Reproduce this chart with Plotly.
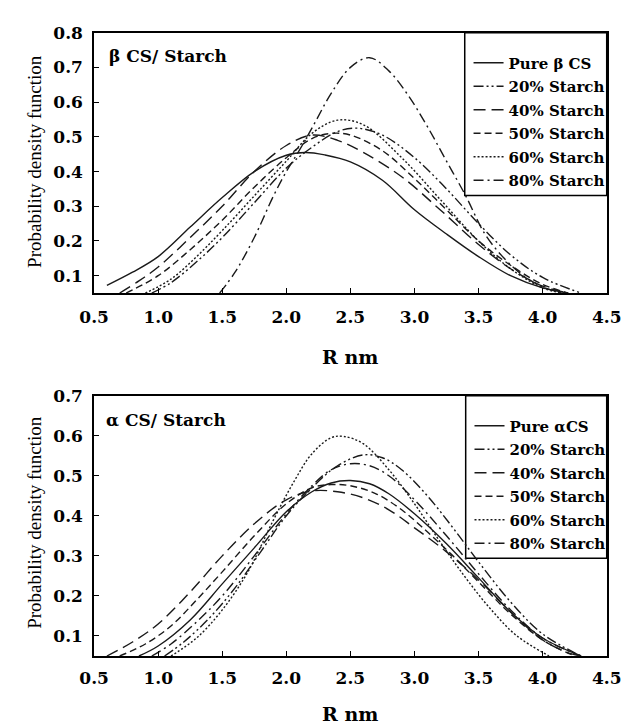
import plotly.graph_objects as go

W, H = 636, 728

# ---------------- data: beta CS / Starch (top panel) ----------------
b_names = ["Pure \u03b2 CS", "20% Starch", "40% Starch", "50% Starch", "60% Starch", "80% Starch"]
b_pure_x = [0.6, 0.8, 1.0, 1.25, 1.5, 1.75, 2.0, 2.15, 2.3, 2.5, 2.75, 3.0, 3.25, 3.5, 3.75, 4.0, 4.2]
b_pure_y = [0.072, 0.11, 0.155, 0.24, 0.325, 0.40, 0.447, 0.455, 0.448, 0.428, 0.375, 0.29, 0.22, 0.155, 0.10, 0.065, 0.05]
b_20_x = [0.95, 1.1, 1.3, 1.5, 1.75, 2.0, 2.2, 2.4, 2.55, 2.75, 3.0, 3.25, 3.5, 3.75, 4.0, 4.3]
b_20_y = [0.05, 0.08, 0.14, 0.21, 0.31, 0.41, 0.47, 0.515, 0.525, 0.505, 0.44, 0.35, 0.25, 0.16, 0.095, 0.05]
b_40_x = [0.7, 0.85, 1.0, 1.25, 1.5, 1.75, 2.0, 2.2, 2.4, 2.6, 2.9, 3.2, 3.5, 3.75, 4.0, 4.2]
b_40_y = [0.05, 0.085, 0.125, 0.21, 0.30, 0.40, 0.475, 0.505, 0.49, 0.455, 0.385, 0.29, 0.19, 0.12, 0.07, 0.05]
b_50_x = [0.75, 1.0, 1.25, 1.5, 1.75, 2.0, 2.2, 2.35, 2.5, 2.75, 3.0, 3.25, 3.5, 3.75, 4.0, 4.2]
b_50_y = [0.05, 0.10, 0.175, 0.26, 0.355, 0.44, 0.495, 0.51, 0.505, 0.46, 0.38, 0.29, 0.20, 0.13, 0.075, 0.05]
b_60_x = [0.9, 1.1, 1.3, 1.5, 1.75, 2.0, 2.2, 2.4, 2.6, 2.9, 3.2, 3.5, 3.75, 4.0, 4.15]
b_60_y = [0.05, 0.09, 0.155, 0.23, 0.33, 0.43, 0.51, 0.548, 0.535, 0.44, 0.32, 0.20, 0.12, 0.065, 0.05]
b_80_x = [1.48, 1.6, 1.75, 1.9, 2.0, 2.1, 2.2, 2.35, 2.5, 2.65, 2.8, 2.95, 3.1, 3.25, 3.4, 3.55, 3.7, 3.85, 4.0, 4.16]
b_80_y = [0.05, 0.11, 0.21, 0.33, 0.40, 0.46, 0.525, 0.625, 0.70, 0.728, 0.69, 0.62, 0.53, 0.43, 0.33, 0.22, 0.15, 0.10, 0.068, 0.05]

# ---------------- data: alpha CS / Starch (bottom panel) ----------------
a_names = ["Pure \u03b1CS", "20% Starch", "40% Starch", "50% Starch", "60% Starch", "80% Starch"]
a_pure_x = [0.85, 1.0, 1.25, 1.5, 1.75, 2.0, 2.2, 2.35, 2.5, 2.65, 2.8, 3.0, 3.25, 3.5, 3.75, 4.0, 4.3]
a_pure_y = [0.05, 0.075, 0.14, 0.23, 0.32, 0.41, 0.46, 0.482, 0.488, 0.48, 0.455, 0.405, 0.33, 0.245, 0.16, 0.095, 0.05]
a_20_x = [1.05, 1.2, 1.4, 1.6, 1.8, 2.0, 2.2, 2.4, 2.6, 2.75, 2.9, 3.1, 3.3, 3.5, 3.75, 4.0, 4.3]
a_20_y = [0.05, 0.085, 0.145, 0.22, 0.31, 0.40, 0.47, 0.525, 0.552, 0.545, 0.515, 0.45, 0.37, 0.285, 0.185, 0.105, 0.05]
a_40_x = [0.6, 0.8, 1.0, 1.25, 1.5, 1.75, 2.0, 2.2, 2.4, 2.6, 2.8, 3.0, 3.25, 3.5, 3.75, 4.0, 4.2, 4.3]
a_40_y = [0.05, 0.085, 0.13, 0.21, 0.30, 0.38, 0.44, 0.462, 0.46, 0.445, 0.415, 0.37, 0.31, 0.24, 0.16, 0.09, 0.058, 0.05]
a_50_x = [0.7, 0.9, 1.1, 1.3, 1.5, 1.75, 2.0, 2.2, 2.35, 2.5, 2.7, 2.9, 3.1, 3.3, 3.5, 3.75, 4.0, 4.25]
a_50_y = [0.05, 0.08, 0.125, 0.19, 0.26, 0.35, 0.43, 0.47, 0.478, 0.475, 0.455, 0.415, 0.36, 0.30, 0.235, 0.155, 0.09, 0.05]
a_60_x = [1.1, 1.3, 1.5, 1.7, 1.9, 2.05, 2.2, 2.35, 2.45, 2.6, 2.8, 3.0, 3.2, 3.4, 3.6, 3.8, 4.05]
a_60_y = [0.05, 0.095, 0.165, 0.26, 0.39, 0.48, 0.555, 0.595, 0.598, 0.58, 0.515, 0.43, 0.335, 0.245, 0.165, 0.10, 0.05]
a_80_x = [0.95, 1.1, 1.3, 1.5, 1.75, 2.0, 2.2, 2.35, 2.5, 2.65, 2.8, 3.0, 3.25, 3.5, 3.75, 4.0, 4.3]
a_80_y = [0.05, 0.08, 0.135, 0.20, 0.30, 0.405, 0.475, 0.515, 0.53, 0.525, 0.50, 0.44, 0.35, 0.255, 0.165, 0.095, 0.05]

x_ticks = [0.5, 1.0, 1.5, 2.0, 2.5, 3.0, 3.5, 4.0, 4.5]
top_y_ticks = [0.1, 0.2, 0.3, 0.4, 0.5, 0.6, 0.7, 0.8]
bot_y_ticks = [0.1, 0.2, 0.3, 0.4, 0.5, 0.6, 0.7]

# ---------------- styles ----------------
dashes = ["solid", "10px,3px,2px,3px,2px,3px", "12px,6px", "7px,4px", "2px,2px", "10px,4px,2px,4px"]
LC = "#1a1a1a"
FONT = "DejaVu Serif"

def px(x):
    return x / W

def py(y):
    return 1 - y / H

top_series = [(b_pure_x, b_pure_y), (b_20_x, b_20_y), (b_40_x, b_40_y),
              (b_50_x, b_50_y), (b_60_x, b_60_y), (b_80_x, b_80_y)]
bot_series = [(a_pure_x, a_pure_y), (a_20_x, a_20_y), (a_40_x, a_40_y),
              (a_50_x, a_50_y), (a_60_x, a_60_y), (a_80_x, a_80_y)]

fig = go.Figure()
for i, ((xs, ys), nm) in enumerate(zip(top_series, b_names)):
    fig.add_trace(go.Scatter(x=xs, y=ys, name=nm, mode="lines", legendgroup="b%d" % i,
                             line=dict(color=LC, width=1.4, dash=dashes[i], shape="spline", smoothing=1.0),
                             xaxis="x", yaxis="y", legend="legend"))
for i, ((xs, ys), nm) in enumerate(zip(bot_series, a_names)):
    fig.add_trace(go.Scatter(x=xs, y=ys, name=nm, mode="lines", legendgroup="a%d" % i,
                             line=dict(color=LC, width=1.4, dash=dashes[i], shape="spline", smoothing=1.0),
                             xaxis="x2", yaxis="y2", legend="legend2"))

tickfont = dict(family=FONT, size=17, color="black", weight="bold")
axis_common = dict(showline=True, linecolor="black", linewidth=1.5, mirror=True,
                   ticks="inside", ticklen=5, tickcolor="black", showgrid=False,
                   zeroline=False, tickfont=tickfont)

x_dom = [px(83), px(621)]
legend_font = dict(family=FONT, size=15, color="black", weight="bold")
fig.update_layout(
    width=W, height=H,
    margin=dict(l=0, r=0, t=0, b=0),
    paper_bgcolor="white", plot_bgcolor="white",
    xaxis=dict(domain=x_dom, range=[0.5, 4.5], tickvals=x_ticks, tickformat=".1f",
               anchor="y", ticklabelstandoff=8, **axis_common),
    yaxis=dict(domain=[py(287), py(23)], range=[0.05, 0.8], tickvals=top_y_ticks, tickformat=".1f",
               anchor="x", ticklabelstandoff=6, **axis_common),
    xaxis2=dict(domain=x_dom, range=[0.5, 4.5], tickvals=x_ticks, tickformat=".1f",
                anchor="y2", ticklabelstandoff=6, **axis_common),
    yaxis2=dict(domain=[py(655), py(391)], range=[0.05, 0.7], tickvals=bot_y_ticks, tickformat=".1f",
                anchor="x2", ticklabelstandoff=6, **axis_common),
    legend=dict(x=px(476), y=py(37), xanchor="left", yanchor="top", bgcolor="rgba(0,0,0,0)",
                font=legend_font, borderwidth=0, itemwidth=30, tracegroupgap=1),
    legend2=dict(x=px(477), y=py(405), xanchor="left", yanchor="top", bgcolor="rgba(0,0,0,0)",
                 font=legend_font, borderwidth=0, itemwidth=30, tracegroupgap=1),
    showlegend=True,
)

# legend boxes
fig.add_shape(type="rect", xref="paper", yref="paper", x0=px(472), x1=px(621), y0=py(188), y1=py(23),
              line=dict(color="black", width=1.5), fillcolor="white", layer="below")
fig.add_shape(type="rect", xref="paper", yref="paper", x0=px(473), x1=px(621), y0=py(556), y1=py(391),
              line=dict(color="black", width=1.5), fillcolor="white", layer="below")

ann_font = dict(family=FONT, size=17, color="black", weight="bold")
title_font = dict(family=FONT, size=19, color="black", weight="bold")
ytitle_font = dict(family="Liberation Serif", size=19, color="black")
annotations = [
    dict(text="\u03b2 CS/ Starch", x=px(97), y=py(47), xanchor="left", yanchor="middle", font=ann_font),
    dict(text="\u03b1 CS/ Starch", x=px(93), y=py(416), xanchor="left", yanchor="middle", font=ann_font),
    dict(text="R nm", x=px(352), y=py(352), xanchor="center", yanchor="middle", font=title_font),
    dict(text="R nm", x=px(352), y=py(714), xanchor="center", yanchor="middle", font=title_font),
    dict(text="Probability density function", x=px(21), y=py(154), xanchor="center", yanchor="middle",
         textangle=-90, font=ytitle_font),
    dict(text="Probability density function", x=px(21), y=py(520), xanchor="center", yanchor="middle",
         textangle=-90, font=ytitle_font),
]
for a in annotations:
    fig.add_annotation(xref="paper", yref="paper", showarrow=False, **a)

fig.write_html("out.html")
